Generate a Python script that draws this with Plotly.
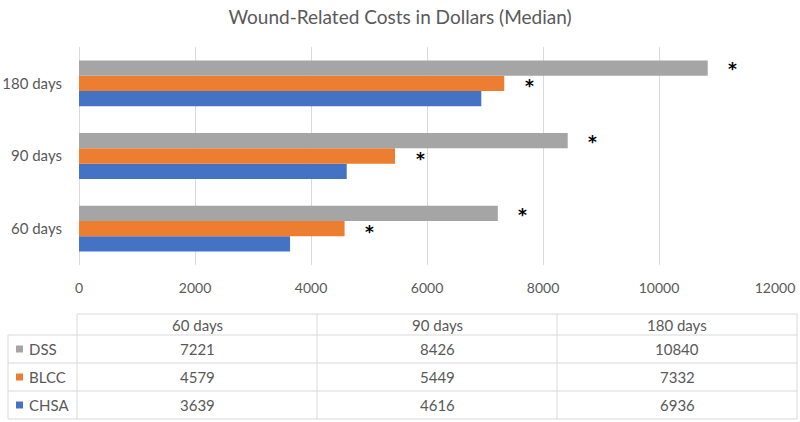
import plotly.graph_objects as go

# ---- data ----
categories = ["60 days", "90 days", "180 days"]
series_names = ["CHSA", "BLCC", "DSS"]
chsa = [3639, 4616, 6936]
blcc = [4579, 5449, 7332]
dss = [7221, 8426, 10840]
colors = {"CHSA": "#4472C4", "BLCC": "#ED7D31", "DSS": "#A5A5A5"}
significant = {"BLCC": [True, True, True], "DSS": [True, True, True], "CHSA": [False, False, False]}
values = {"CHSA": chsa, "BLCC": blcc, "DSS": dss}
table_rows = ["DSS", "BLCC", "CHSA"]
x_ticks = [0, 2000, 4000, 6000, 8000, 10000, 12000]
x_tick_labels = ["0", "2000", "4000", "6000", "8000", "10000", "12000"]

W, H = 800, 422
L, R, T, B = 79, 25, 47, 157
PW, PH = W - L - R, H - T - B
FONT = "Lato, 'Open Sans', sans-serif"
TXT = "#595959"
GRID = "#D9D9D9"


def px(xp):
    return (xp - L) / PW


def py(yp):
    return (H - B - yp) / PH


fig = go.Figure()
for name in series_names:
    fig.add_trace(go.Bar(
        y=categories, x=values[name], name=name, orientation="h",
        marker=dict(color=colors[name], line=dict(width=0)),
        showlegend=False, hoverinfo="x+name",
    ))

# asterisks for significance
yshift = {"DSS": 14, "BLCC": -3, "CHSA": -19}
annotations = []
for name in series_names:
    for cat, v, sig in zip(categories, values[name], significant[name]):
        if sig:
            annotations.append(dict(
                x=v, y=cat, xref="x", yref="y", text="<b>*</b>", showarrow=False,
                xshift=25, yshift=yshift[name], xanchor="center", yanchor="middle",
                font=dict(family="DejaVu Sans, sans-serif", size=17, color="#000000"),
            ))

# data table below chart
shapes = []
line = dict(color=GRID, width=1)
col_edges = [77, 317, 557, 797]
row_edges = [314, 335, 363, 391, 419]
legend_left = 8
shapes.append(dict(type="line", xref="paper", yref="paper", x0=px(col_edges[0]), x1=px(col_edges[-1]),
                   y0=py(row_edges[0]), y1=py(row_edges[0]), line=line))
for r in row_edges[1:]:
    shapes.append(dict(type="line", xref="paper", yref="paper", x0=px(legend_left), x1=px(col_edges[-1]),
                       y0=py(r), y1=py(r), line=line))
shapes.append(dict(type="line", xref="paper", yref="paper", x0=px(legend_left), x1=px(legend_left),
                   y0=py(row_edges[1]), y1=py(row_edges[-1]), line=line))
for c in col_edges:
    shapes.append(dict(type="line", xref="paper", yref="paper", x0=px(c), x1=px(c),
                       y0=py(row_edges[0]), y1=py(row_edges[-1]), line=line))

cell_font = dict(family=FONT, size=15, color=TXT)
for j, cat in enumerate(categories):
    cx = (col_edges[j] + col_edges[j + 1]) / 2
    cy = (row_edges[0] + row_edges[1]) / 2
    annotations.append(dict(x=px(cx), y=py(cy), xref="paper", yref="paper", text=cat,
                            showarrow=False, xanchor="center", yanchor="middle", font=cell_font))
for i, name in enumerate(table_rows):
    cy = (row_edges[i + 1] + row_edges[i + 2]) / 2
    shapes.append(dict(type="rect", xref="paper", yref="paper", x0=px(16), x1=px(23),
                       y0=py(cy + 3.5), y1=py(cy - 3.5), line=dict(width=0), fillcolor=colors[name]))
    annotations.append(dict(x=px(27), y=py(cy), xref="paper", yref="paper", text=name,
                            showarrow=False, xanchor="left", yanchor="middle", font=cell_font))
    for j, v in enumerate(values[name]):
        cx = (col_edges[j] + col_edges[j + 1]) / 2
        annotations.append(dict(x=px(cx), y=py(cy), xref="paper", yref="paper", text=str(v),
                                showarrow=False, xanchor="center", yanchor="middle", font=cell_font))

fig.update_layout(
    width=W, height=H,
    margin=dict(l=L, r=R, t=T, b=B, autoexpand=False),
    paper_bgcolor="white", plot_bgcolor="white",
    barmode="group", bargap=0.37, bargroupgap=0,
    title=dict(text="Wound-Related Costs in Dollars (Median)", x=0.5, xanchor="center",
               y=1 - 17 / H, yanchor="middle", font=dict(family=FONT, size=19, color=TXT)),
    xaxis=dict(range=[0, 12000], tickvals=x_ticks, ticktext=x_tick_labels, showgrid=True,
               gridcolor=GRID, gridwidth=1, automargin=False,
               zeroline=True, zerolinecolor=GRID, zerolinewidth=1, showline=False,
               tickfont=dict(family=FONT, size=14, color=TXT), ticks="", ticklabelstandoff=13),
    yaxis=dict(type="category", categoryorder="array", categoryarray=categories, automargin=False,
               showgrid=False, zeroline=False, showline=False, ticks="",
               tickfont=dict(family=FONT, size=15, color=TXT), ticklabelstandoff=16),
    shapes=shapes, annotations=annotations,
)
fig.write_html("out.html", config={"displayModeBar": False},
               post_script="document.body.style.margin='0';document.body.style.overflow='hidden';")
